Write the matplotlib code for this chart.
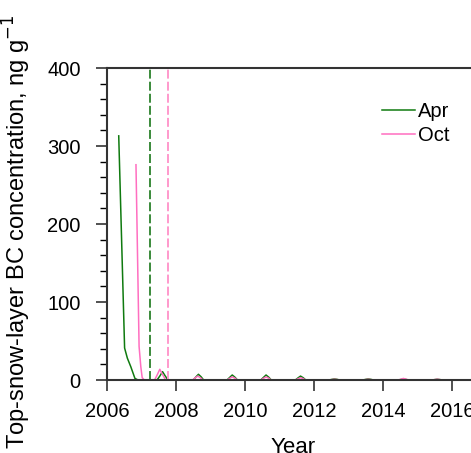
import numpy as np
import matplotlib.pyplot as plt

plt.rcParams['font.family'] = ['Liberation Sans', 'DejaVu Sans']

# top-snow-layer BC, spring (Apr) deposition run
apr_year = [2006.34, 2006.51, 2006.59, 2006.69, 2006.81, 2006.90,
            2007.45, 2007.53, 2007.61, 2007.69, 2007.77,
            2008.50, 2008.58, 2008.65, 2008.73, 2008.80,
            2009.48, 2009.56, 2009.63, 2009.71, 2009.78,
            2010.46, 2010.54, 2010.61, 2010.69, 2010.76,
            2011.46, 2011.54, 2011.61, 2011.69, 2011.76,
            2012.44, 2012.52, 2012.59, 2012.67, 2012.74,
            2013.42, 2013.50, 2013.57, 2013.65, 2013.72,
            2014.44, 2014.52, 2014.59, 2014.67, 2014.74,
            2015.42, 2015.50, 2015.57, 2015.65, 2015.72,
            2018.0]
apr_bc = [313, 41, 28, 17, 2, 0,
          0, 5, 10.7, 5, 0,
          0, 4, 7.3, 4, 0,
          0, 3.5, 6.4, 3.5, 0,
          0, 3.5, 6.4, 3.5, 0,
          0, 2.8, 5.0, 2.8, 0,
          0, 0.8, 1.5, 0.8, 0,
          0, 0.8, 1.5, 0.8, 0,
          0, 0.6, 1.2, 0.6, 0,
          0, 0.5, 1.0, 0.5, 0,
          0]

# autumn (Oct) deposition run
oct_year = [2006.84, 2006.93, 2006.98, 2007.02, 2007.08,
            2007.38, 2007.46, 2007.53, 2007.61, 2007.70,
            2008.48, 2008.56, 2008.63, 2008.71, 2008.78,
            2009.48, 2009.56, 2009.63, 2009.71, 2009.78,
            2010.46, 2010.54, 2010.61, 2010.69, 2010.76,
            2011.46, 2011.54, 2011.61, 2011.69, 2011.76,
            2012.44, 2012.52, 2012.59, 2012.67, 2012.74,
            2013.42, 2013.50, 2013.57, 2013.65, 2013.72,
            2014.44, 2014.52, 2014.59, 2014.67, 2014.74,
            2015.42, 2015.50, 2015.57, 2015.65, 2015.72,
            2018.0]
oct_bc = [276, 43, 17, 3, 0,
          0, 7, 13.7, 7, 0,
          0, 2.8, 5.0, 2.8, 0,
          0, 2.2, 4.0, 2.2, 0,
          0, 2.2, 4.0, 2.2, 0,
          0, 1.6, 3.0, 1.6, 0,
          0, 0.5, 1.0, 0.5, 0,
          0, 0.5, 1.0, 0.5, 0,
          0, 1.0, 2.0, 1.0, 0,
          0, 0.5, 1.0, 0.5, 0,
          0]

# dates marked with dashed lines
apr_mark = 2007.25
oct_mark = 2007.76

green = '#0f7a0f'
pink = '#ff6ec0'

fig = plt.figure(figsize=(4.71, 4.53), dpi=100)
# axes run past the right edge of the figure
ax = fig.add_axes([107 / 471, 1 - 380 / 453, 414 / 471, 312 / 453])

ax.plot(apr_year, apr_bc, color=green, lw=1.1, label='Apr')
ax.plot(oct_year, oct_bc, color=pink, lw=1.1, label='Oct')
ax.axvline(apr_mark, color='#3a8a3a', lw=1.4, ls=(0, (4.6, 1.6)))
ax.axvline(oct_mark, color='#ff99cc', lw=1.4, ls=(0, (4.6, 1.6)))

ax.set_xlim(2006, 2018)
ax.set_ylim(0, 400)
ax.set_xticks(np.arange(2006, 2019, 2))
ax.set_yticks(np.arange(0, 401, 100))
ax.set_yticks(np.arange(0, 401, 20), minor=True)
ax.tick_params(axis='both', direction='out', labelsize=14.5, width=1.2, color='#333333')
ax.tick_params(axis='y', which='major', length=8, pad=11)
ax.tick_params(axis='y', which='minor', length=5, width=1)
ax.tick_params(axis='x', length=8, pad=8)
for s in ax.spines.values():
    s.set_linewidth(1.5)
    s.set_color('#333333')

ax.set_xlabel('Year', fontsize=16)
ax.set_ylabel('Top-snow-layer BC concentration, ng g$^{-1}$', fontsize=17)
ax.xaxis.set_label_coords(0.449, -0.183)
ax.yaxis.set_label_coords(-0.179, 0.474)

ax.legend(loc='upper left', bbox_to_anchor=(0.664, 0.89), frameon=False, fontsize=14.5,
          handlelength=1.65, handletextpad=0.15, labelspacing=0.25, borderaxespad=0,
          borderpad=0)

fig.savefig('out.png', dpi=100)
